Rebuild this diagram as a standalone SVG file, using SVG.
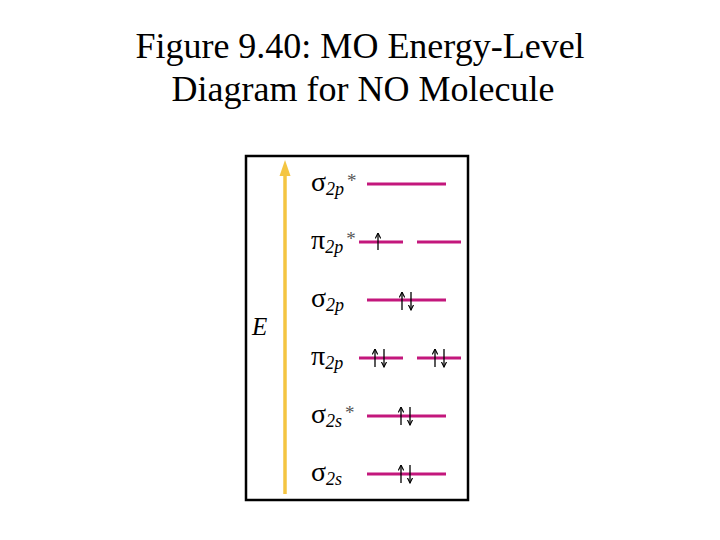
<svg xmlns="http://www.w3.org/2000/svg" width="720" height="540" viewBox="0 0 720 540">
<style>
.title{font-family:"Liberation Serif","Times New Roman",serif;font-size:36px;fill:#000;text-anchor:middle}
.sym{font-family:"Liberation Serif","Times New Roman",serif;font-size:28px;fill:#000}
.sub{font-family:"Liberation Serif","Times New Roman",serif;font-size:18px;font-style:italic}
.star{font-family:"Liberation Serif","Times New Roman",serif;font-size:19px;fill:#555}
.lvl{stroke:#c3177c;stroke-width:3;fill:none}
.e{stroke:#000;stroke-width:1.3;fill:none}
</style>
<defs>
<marker id="eh" viewBox="0 0 6 6" refX="5.5" refY="3" markerWidth="6" markerHeight="6" markerUnits="userSpaceOnUse" orient="auto">
<path d="M0,0.3 L5.5,3 L0,5.7" fill="none" stroke="#000" stroke-width="1.1"/>
</marker>
</defs>
<rect width="720" height="540" fill="#fff"/>
<g id="title">
<text class="title" x="360" y="58">Figure 9.40: MO Energy-Level</text>
<text class="title" x="363" y="101">Diagram for NO Molecule</text>
</g>
<rect id="frame" x="246" y="156" width="222" height="344" fill="none" stroke="#000" stroke-width="2.5"/>
<g id="connectors">
<line x1="285" y1="494" x2="285" y2="176" stroke="#f4c542" stroke-width="3.5"/>
<path d="M279.5,176 L285,160 L290.5,176 Z" fill="#f4c542"/>
</g>
<text id="E" x="252" y="335" class="sym" style="font-style:italic;font-size:25px">E</text>
<g id="sigma2p_star">
<text class="sym" x="311" y="191">σ<tspan class="sub" dy="4">2p</tspan><tspan class="star" dx="3" dy="-8">*</tspan></text>
<line class="lvl" x1="367" y1="184" x2="446" y2="184"/>
</g>
<g id="pi2p_star">
<text class="sym" x="311" y="249">π<tspan class="sub" dy="4">2p</tspan><tspan class="star" dx="3" dy="-8">*</tspan></text>
<line class="lvl" x1="359" y1="242" x2="403" y2="242"/>
<line class="lvl" x1="417" y1="242" x2="461" y2="242"/>
<line class="e" x1="378" y1="250" x2="378" y2="233" marker-end="url(#eh)"/>
</g>
<g id="sigma2p">
<text class="sym" x="311" y="307">σ<tspan class="sub" dy="4">2p</tspan></text>
<line class="lvl" x1="367" y1="300" x2="446" y2="300"/>
<line class="e" x1="402" y1="310" x2="402" y2="292" marker-end="url(#eh)"/>
<line class="e" x1="411" y1="292" x2="411" y2="310" marker-end="url(#eh)"/>
</g>
<g id="pi2p">
<text class="sym" x="311" y="365">π<tspan class="sub" dy="4">2p</tspan></text>
<line class="lvl" x1="359" y1="358" x2="403" y2="358"/>
<line class="lvl" x1="417" y1="358" x2="461" y2="358"/>
<line class="e" x1="375" y1="367" x2="375" y2="349" marker-end="url(#eh)"/>
<line class="e" x1="384" y1="349" x2="384" y2="367" marker-end="url(#eh)"/>
<line class="e" x1="435" y1="367" x2="435" y2="349" marker-end="url(#eh)"/>
<line class="e" x1="444" y1="349" x2="444" y2="367" marker-end="url(#eh)"/>
</g>
<g id="sigma2s_star">
<text class="sym" x="311" y="423">σ<tspan class="sub" dy="4">2s</tspan><tspan class="star" dx="3" dy="-8">*</tspan></text>
<line class="lvl" x1="367" y1="416" x2="446" y2="416"/>
<line class="e" x1="401" y1="425" x2="401" y2="407" marker-end="url(#eh)"/>
<line class="e" x1="410" y1="407" x2="410" y2="425" marker-end="url(#eh)"/>
</g>
<g id="sigma2s">
<text class="sym" x="311" y="481">σ<tspan class="sub" dy="4">2s</tspan></text>
<line class="lvl" x1="367" y1="474" x2="446" y2="474"/>
<line class="e" x1="401" y1="483" x2="401" y2="465" marker-end="url(#eh)"/>
<line class="e" x1="410" y1="465" x2="410" y2="483" marker-end="url(#eh)"/>
</g>
</svg>
